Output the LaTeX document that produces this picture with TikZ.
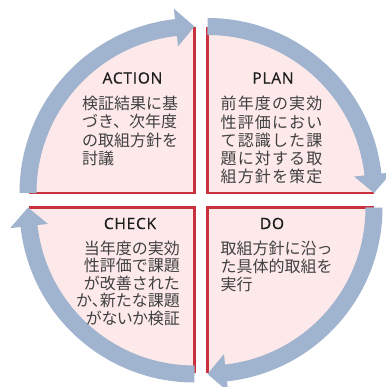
\documentclass[tikz,border=0pt]{standalone}
\usepackage{fontspec}
\newfontfamily\jp{Noto Sans CJK JP}
\newfontfamily\ttl[LetterSpace=5,FakeBold=0.8]{Open Sans}
\usetikzlibrary{calc}
\definecolor{pinkfill}{HTML}{FDE9EA}
\definecolor{redline}{HTML}{C8323C}
\definecolor{blueband}{HTML}{A0B4CF}
\definecolor{txt}{HTML}{404040}
\begin{document}
\begin{tikzpicture}[x=1pt,y=1pt,
  sector/.style={fill=pinkfill},
  edge/.style={draw=redline,line width=2.5pt},
  band/.style={draw=blueband,line width=17pt},
  head/.style={fill=blueband},
  title/.style={font=\ttl\fontsize{15.5}{18}\selectfont,text=black!88,inner sep=0pt},
  body/.style={font=\jp\fontsize{16}{18.3}\selectfont,text=txt,inner sep=0pt}]
\useasboundingbox (0,0) rectangle (385,387);
\coordinate (cTL) at (194.5,194);
\coordinate (cTR) at (207.5,194);
\coordinate (cBL) at (194.5,179.5);
\coordinate (cBR) at (207.5,179.5);
% sectors
\foreach \c/\s in {cTL/90, cTR/0, cBR/-90, cBL/180}{
  \fill[sector] (\c) -- ($(\c)+(\s:166)$) arc[start angle=\s, end angle=\s+90, radius=166] -- cycle;
  \draw[edge] ($(\c)+(\s:166)$) -- (\c) -- ($(\c)+({\s+90}:166)$);
}
% arrows
\foreach \c/\s in {cTL/180, cTR/90, cBR/0, cBL/-90}{
  \draw[band] ($(\c)+(\s:166.5)$) arc[start angle=\s, end angle=\s-84, radius=166.5];
  \fill[head] ($(\c)+({\s-83.6}:185.5)$) -- ($(\c)+({\s-90}:166.5)$) -- ($(\c)+({\s-83.6}:147.5)$) -- cycle;
}
% texts (base anchor = baseline of last line)
\node[title] (actT) at (132.5,309) {ACTION};
\node[body,anchor=base west,align=left] (actB) at (82,222.5)
  {検証結果に基\\づき、次年度\\の取組方針を\\討議};
\node[title] (planT) at (273,309) {PLAN};
\node[body,font=\jp\addfontfeature{LetterSpace=7}\fontsize{16}{18.2}\selectfont,anchor=base west,align=left] (planB) at (220.5,204.2)
  {前年度の実効\\性評価におい\\て認識した課\\題に対する取\\組方針を策定};
\node[title] (chkT) at (130,163.5) {CHECK};
\node[body,font=\jp\fontsize{16}{17.5}\selectfont,anchor=base east,align=right] (chkB) at (180,62.7)
  {当年度の実効\\性評価で課題\\が改善された\\か、\kern-0.5em新たな課題\\{\addfontfeature{RawFeature=+palt}がないか}検証};
\node[title] (doT) at (272,163.5) {DO};
\node[body,anchor=base west,align=left] (doB) at (220.5,96)
  {取組方針に沿っ\\た具体的取組を\\実行};
\end{tikzpicture}
\end{document}
